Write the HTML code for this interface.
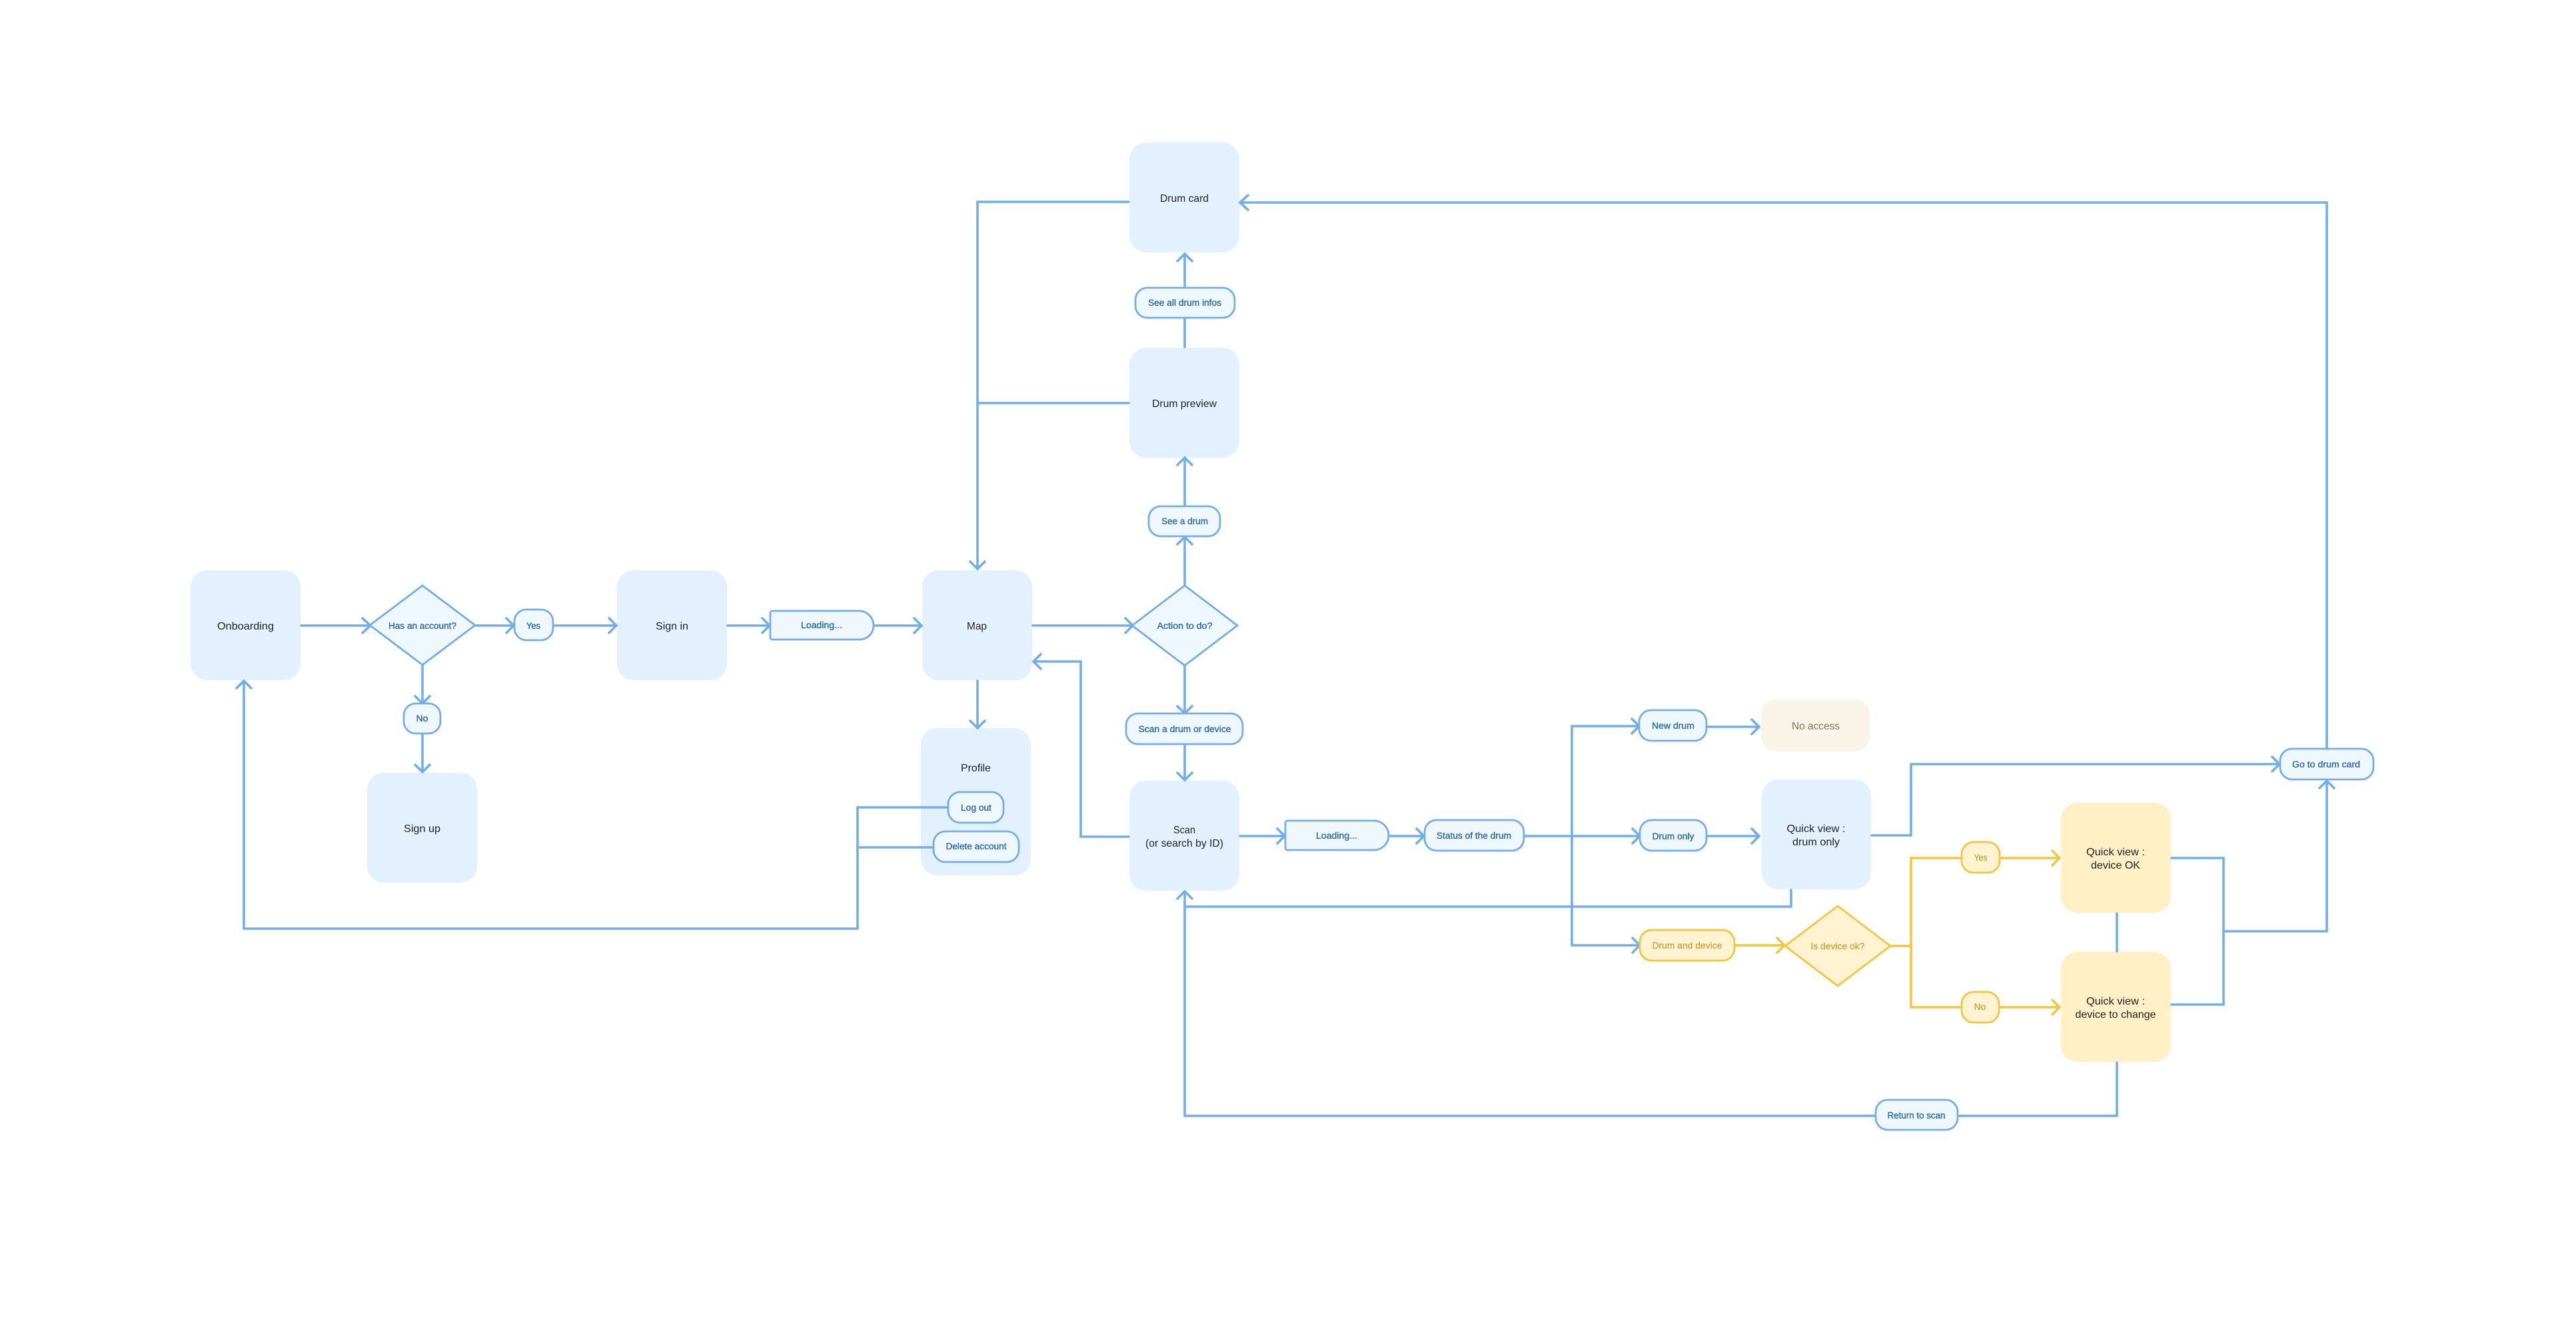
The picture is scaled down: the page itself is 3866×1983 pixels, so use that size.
<!DOCTYPE html>
<html><head><meta charset="utf-8"><style>
html,body{margin:0;padding:0;background:#fff;width:3866px;height:1983px;overflow:hidden}
svg{display:block}
text{font-family:"Liberation Sans",sans-serif;text-anchor:middle}
.n{fill:#E3F1FF}.y{fill:#FFF0C6}
.t{font-size:16px;fill:#222}
.p{font-size:13.5px;fill:#2A6AA8;stroke:#2A6AA8;stroke-width:.35}
.q{font-size:13.5px;fill:#C6A23A;stroke:#C6A23A;stroke-width:.25}
.b{fill:none;stroke:#74AEE8;stroke-width:3.6;stroke-linejoin:miter;stroke-linecap:round}
.g{fill:none;stroke:#F3C63F;stroke-width:3.6;stroke-linecap:round}
.pb{fill:#F0F8FF;stroke:#74AEE8;stroke-width:2.8;stroke-linejoin:round}
.py{fill:#FFF3D2;stroke:#F3C63F;stroke-width:2.8;stroke-linejoin:round}
</style></head><body>
<svg width="3866" height="1983" viewBox="0 0 3866 1983" xmlns="http://www.w3.org/2000/svg">
<rect width="3866" height="1983" fill="#fff"/>
<!-- nodes -->
<g class="n">
<rect x="286" y="856" width="165" height="165" rx="25"/>
<rect x="926" y="856" width="165" height="165" rx="25"/>
<rect x="551" y="1160" width="165" height="165" rx="25"/>
<rect x="1384" y="856" width="165" height="165" rx="25"/>
<rect x="1382" y="1093" width="165" height="221" rx="25"/>
<rect x="1695" y="1172" width="165" height="165" rx="25"/>
<rect x="1695" y="214" width="165" height="165" rx="25"/>
<rect x="1695" y="522" width="165" height="165" rx="25"/>
<rect x="2644" y="1170" width="164" height="165" rx="25"/>
</g>
<rect x="2643" y="1050" width="163" height="78" rx="23" fill="#F8F4E7"/>
<g class="y">
<rect x="3093" y="1205" width="165" height="165" rx="25"/>
<rect x="3093" y="1429" width="165" height="165" rx="25"/>
</g>
<!-- blue connectors -->
<g class="b">
<path d="M452 939H555M544 928L556 939L544 950"/>
<path d="M712 939H770M760 928L771 939L760 950"/>
<path d="M829 939H925M914 928L925 939L914 950"/>
<path d="M1092 939H1155M1144 928L1155 939L1144 950"/>
<path d="M1311 939H1382M1372 928L1383 939L1372 950"/>
<path d="M1550 939H1699M1689 928L1700 939L1689 950"/>
<path d="M634 998V1055M623 1045L634 1056L645 1045"/>
<path d="M634 1101V1158M623 1148L634 1159L645 1148"/>
<path d="M1694 303H1467V853M1456 843L1467 854L1478 843"/>
<path d="M1694 605H1467"/>
<path d="M1467 1022V1092M1456 1082L1467 1093L1478 1082"/>
<path d="M1778 879V807M1767 817L1778 806L1789 817"/>
<path d="M1778 759V688M1767 698L1778 687L1789 698"/>
<path d="M1778 521V477M1778 431V382M1767 392L1778 381L1789 392"/>
<path d="M1778 999V1070M1767 1060L1778 1071L1789 1060"/>
<path d="M1778 1117V1170M1767 1160L1778 1171L1789 1160"/>
<path d="M1694 1256H1622V993H1552M1562 982L1551 993L1562 1004"/>
<path d="M1861 1255H1927M1917 1244L1928 1255L1917 1266"/>
<path d="M2084 1255H2136M2126 1244L2137 1255L2126 1266"/>
<path d="M2287 1255H2460M2450 1244L2461 1255L2450 1266"/>
<path d="M2460 1090H2359V1419H2460M2449 1079L2460 1090L2449 1101M2450 1408L2461 1419L2450 1430"/>
<path d="M2561 1091H2639M2629 1080L2640 1091L2629 1102"/>
<path d="M2561 1255H2639M2629 1244L2640 1255L2629 1266"/>
<path d="M2809 1254H2868V1147H3420M3410 1136L3421 1147L3410 1158"/>
<path d="M2688 1336V1361H1778"/>
<path d="M3177 1595V1675H1778V1339M1767 1349L1778 1338L1789 1349"/>
<path d="M3177 1371V1428"/>
<path d="M3259 1288H3337V1508H3259M3337 1398H3492V1173M3481 1183L3492 1172L3503 1183"/>
<path d="M3492 1124V304H1862M1873 293L1861 304L1873 315"/>
<path d="M1423 1212H1287V1394H366V1023M355 1033L366 1022L377 1033"/>
<path d="M1401 1272H1287"/>
</g>
<!-- yellow connectors -->
<g class="g">
<path d="M2603 1419H2677M2667 1408L2678 1419L2667 1430"/>
<path d="M2837 1420H2868M2944 1288H2868V1512H2944"/>
<path d="M3001 1288H3090M3080 1277L3091 1288L3080 1299"/>
<path d="M3000 1512H3090M3080 1501L3091 1512L3080 1523"/>
</g>
<!-- pills -->
<g class="pb">
<polygon points="555,938.500 634,879 713,938.500 634,998"/>
<polygon points="1699,939 1778,879 1857,939 1778,999"/>
<rect x="772" y="915" width="58" height="46" rx="18"/>
<rect x="606" y="1056" width="55" height="45" rx="18"/>
<path d="M1156 920a3 3 0 0 1 3-3H1289a22 22 0 0 1 22 22v0a21 21 0 0 1-21 21H1159a3 3 0 0 1-3-3Z"/>
<path d="M1929 1235a3 3 0 0 1 3-3H2062a22 22 0 0 1 22 22v0a22 22 0 0 1-22 22H1932a3 3 0 0 1-3-3Z"/>
<rect x="1423" y="1189" width="83" height="46" rx="18"/>
<rect x="1401" y="1248" width="128" height="46" rx="18"/>
<rect x="1690" y="1071" width="175" height="46" rx="18"/>
<rect x="1724" y="760" width="107" height="45" rx="18"/>
<rect x="1704" y="432" width="149" height="45" rx="18"/>
<rect x="2138" y="1231" width="149" height="46" rx="18"/>
<rect x="2460" y="1066" width="101" height="46" rx="18"/>
<rect x="2461" y="1231" width="100" height="46" rx="18"/>
<rect x="3422" y="1124" width="140" height="46" rx="18"/>
<rect x="2815" y="1651" width="123" height="45" rx="18"/>
</g>
<g class="py">
<rect x="2461" y="1396" width="142" height="46" rx="18"/>
<polygon points="2679,1420 2758,1360 2837,1420 2758,1480"/>
<rect x="2944" y="1264" width="57" height="46" rx="18"/>
<rect x="2944" y="1489" width="56" height="46" rx="18"/>
</g>
<!-- large labels -->
<g class="t">
<text x="368.500" y="945" textLength="85" lengthAdjust="spacingAndGlyphs">Onboarding</text>
<text x="1008.500" y="945" textLength="49" lengthAdjust="spacingAndGlyphs">Sign in</text>
<text x="633.500" y="1249" textLength="55" lengthAdjust="spacingAndGlyphs">Sign up</text>
<text x="1466" y="945" textLength="30" lengthAdjust="spacingAndGlyphs">Map</text>
<text x="1464.500" y="1158" textLength="45" lengthAdjust="spacingAndGlyphs">Profile</text>
<text x="1777.500" y="1251" textLength="33" lengthAdjust="spacingAndGlyphs">Scan</text>
<text x="1777.500" y="1271" textLength="117" lengthAdjust="spacingAndGlyphs">(or search by ID)</text>
<text x="1777.500" y="303" textLength="73" lengthAdjust="spacingAndGlyphs">Drum card</text>
<text x="1777.500" y="611" textLength="97" lengthAdjust="spacingAndGlyphs">Drum preview</text>
<text x="2725.500" y="1249" textLength="88" lengthAdjust="spacingAndGlyphs">Quick view :</text>
<text x="2725.500" y="1269" textLength="71" lengthAdjust="spacingAndGlyphs">drum only</text>
<text x="3175" y="1284" textLength="88" lengthAdjust="spacingAndGlyphs">Quick view :</text>
<text x="3175" y="1304" textLength="74" lengthAdjust="spacingAndGlyphs">device OK</text>
<text x="3175" y="1508" textLength="88" lengthAdjust="spacingAndGlyphs">Quick view :</text>
<text x="3175" y="1528" textLength="121" lengthAdjust="spacingAndGlyphs">device to change</text>
</g>
<text x="2725" y="1095" textLength="72" lengthAdjust="spacingAndGlyphs" style="font-size:16px;fill:#7D7356">No access</text>
<!-- pill labels -->
<g class="p">
<text x="634" y="944" textLength="102" lengthAdjust="spacingAndGlyphs">Has an account?</text>
<text x="800.500" y="944" textLength="21" lengthAdjust="spacingAndGlyphs">Yes</text>
<text x="633.500" y="1083" textLength="18" lengthAdjust="spacingAndGlyphs">No</text>
<text x="1233" y="943" textLength="62" lengthAdjust="spacingAndGlyphs">Loading...</text>
<text x="1778" y="944" textLength="83" lengthAdjust="spacingAndGlyphs">Action to do?</text>
<text x="1778" y="1099" textLength="139" lengthAdjust="spacingAndGlyphs">Scan a drum or device</text>
<text x="1465" y="1217" textLength="46" lengthAdjust="spacingAndGlyphs">Log out</text>
<text x="1465" y="1275" textLength="91" lengthAdjust="spacingAndGlyphs">Delete account</text>
<text x="1778" y="787" textLength="70" lengthAdjust="spacingAndGlyphs">See a drum</text>
<text x="1778" y="459" textLength="110" lengthAdjust="spacingAndGlyphs">See all drum infos</text>
<text x="2006" y="1259" textLength="62" lengthAdjust="spacingAndGlyphs">Loading...</text>
<text x="2212" y="1259" textLength="112" lengthAdjust="spacingAndGlyphs">Status of the drum</text>
<text x="2511" y="1094" textLength="64" lengthAdjust="spacingAndGlyphs">New drum</text>
<text x="2511" y="1260" textLength="63" lengthAdjust="spacingAndGlyphs">Drum only</text>
<text x="3491" y="1152" textLength="102" lengthAdjust="spacingAndGlyphs">Go to drum card</text>
<text x="2876" y="1679" textLength="87" lengthAdjust="spacingAndGlyphs">Return to scan</text>
</g>
<g class="q">
<text x="2532" y="1424" textLength="105" lengthAdjust="spacingAndGlyphs">Drum and device</text>
<text x="2758" y="1425" textLength="81" lengthAdjust="spacingAndGlyphs">Is device ok?</text>
<text x="2972.500" y="1292" textLength="20" lengthAdjust="spacingAndGlyphs">Yes</text>
<text x="2971.500" y="1516" textLength="18" lengthAdjust="spacingAndGlyphs">No</text>
</g>
</svg>
</body></html>
